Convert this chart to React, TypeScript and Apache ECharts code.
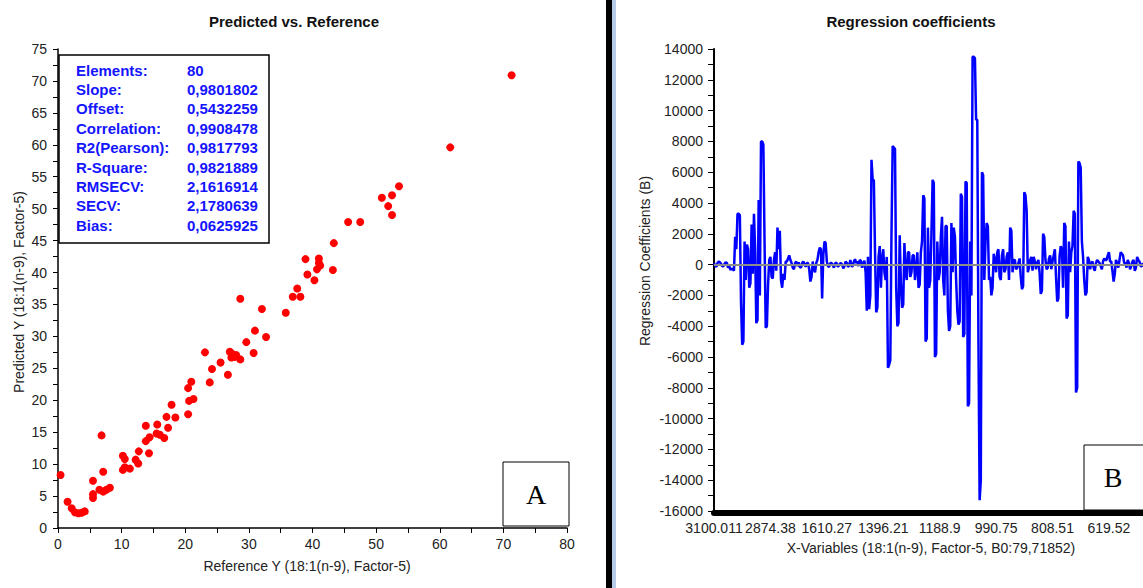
import React, { useEffect, useRef } from "react";
import * as echarts from "echarts";

// ---- Left chart: Predicted vs. Reference ----
const refX = [
  0.4, 1.5, 2.15, 2.65, 3.2, 3.7, 4.2, 5.5, 5.5, 5.5,
  6.85, 7.1, 6.5, 7.1, 7.6, 8.15, 10.2, 10.5, 10.2, 10.5,
  11.3, 12.2, 12.6, 12.7, 13.8, 13.8, 14.4, 14.3, 15.6, 15.5,
  16.0, 16.7, 17.05, 17.85, 18.45, 17.3, 20.45, 20.95, 20.6, 21.3,
  20.45, 23.85, 43.35, 38.9, 41.0, 41.0, 41.2, 40.7, 43.2, 39.2,
  40.3, 37.6, 36.9, 38.1, 28.65, 32.05, 35.8, 30.95, 32.7, 29.6,
  23.1, 30.75, 27.35, 28.0, 27.25, 27.8, 28.65, 25.55, 24.2, 26.7,
  71.3, 61.65, 53.6, 52.5, 50.9, 51.9, 52.5, 45.6, 47.5, 27.0,
];
const predY = [
  8.3, 4.1, 3.1, 2.45, 2.3, 2.4, 2.6, 7.4, 5.3, 4.7,
  14.5, 8.8, 6.0, 5.7, 6.0, 6.3, 11.3, 10.8, 9.1, 9.5,
  9.3, 10.7, 10.1, 12.0, 16.0, 13.6, 14.2, 11.7, 16.2, 14.8,
  14.6, 14.1, 17.4, 19.3, 17.3, 15.7, 21.9, 22.9, 19.9, 20.2,
  17.8, 22.8, 44.6, 42.1, 42.2, 41.5, 41.1, 40.5, 40.4, 39.7,
  38.8, 37.5, 36.2, 36.2, 35.9, 34.3, 33.7, 30.9, 29.9, 29.1,
  27.5, 27.4, 27.3, 27.1, 26.7, 26.8, 26.4, 25.9, 24.9, 24.0,
  70.9, 59.6, 53.5, 52.1, 51.7, 50.4, 49.0, 47.9, 47.9, 27.6,
];
const statLabels = [
  "Elements:", "Slope:", "Offset:", "Correlation:", "R2(Pearson):",
  "R-Square:", "RMSECV:", "SECV:", "Bias:",
];
const statValues = [
  "80", "0,9801802", "0,5432259", "0,9908478", "0,9817793",
  "0,9821889", "2,1616914", "2,1780639", "0,0625925",
];

// ---- Right chart: Regression coefficients ----
const coefTickLabels = [
  "3100.011", "2874.38", "1610.27", "1396.21", "1188.9", "990.75", "808.51", "619.52",
];
const LABEL_STEP = 48;
const coefValues = [
  100, -50, -150, 100, 200, 150, 50, -100, -100, 50,
  150, 100, -200, -100, -350, -250, -300, -400, 1800, 1000,
  3300, 3300, 3200, -2500, -5200, -5000, 1500, -1000, 1300, 1000,
  -1500, -1200, 2600, -600, 3300, 1000, -3800, -3600, 4200, -2000,
  8000, 8000, 7800, 1500, -4100, -4000, -1300, 300, 500, -800,
  -900, 300, 800, -400, 2400, 1000, 2200, -1000, -1500, -600,
  -1000, 200, 200, 400, 600, 300, 100, -200, -300, 100,
  200, -100, 150, -150, -200, 100, 200, 50, -150, 100,
  100, -300, -1100, -800, 200, -300, -500, 100, 300, 800,
  1100, 1000, -2200, 600, 1500, 1400, 200, -100, -150, 100,
  100, 0, -200, 50, 150, -100, -100, 50, 100, 0,
  -250, -100, 200, 100, -150, -50, 300, -100, -100, 200,
  350, 100, 200, -100, 300, 250, -200, 100, 250, -500,
  -3000, 500, -2900, -2000, 6800, 5500, 5500, 800, -3100, -2800,
  500, 1200, -1500, 400, 1000, -500, -1000, 500, -6700, -6500,
  -6200, 2000, 7700, 7600, 7500, -1500, -4000, -3800, 1900, -1200,
  -2800, -2600, 1400, -500, -1000, 800, 800, -800, -500, 600,
  600, -1000, -300, 800, -1500, -1300, 800, 1500, 4500, 4300,
  -5000, -4800, 2400, -1500, -1000, 2000, 5500, 5300, -6000, -5800,
  1500, -1000, -500, 1800, 3100, -1000, -2000, 2500, 2500, -3000,
  -4300, -4000, 2700, -500, 2400, 1800, -1000, -3000, -3900, -3700,
  4600, 4400, -4700, -4500, 5400, 5300, -9200, -9000, 1500, -2000,
  13500, 13500, 13400, 9400, 9400, -5000, -15300, -14000, 6000, 5800,
  -1000, 1500, 2700, 2500, -1000, -800, -2000, -1500, 700, 300,
  -500, 800, 1000, -800, -1000, 600, 1000, -500, -300, 500,
  800, -1000, 2400, 2200, -500, 300, 300, -300, -200, 100,
  400, -800, -1600, -1400, 4700, 4500, 3500, -500, -200, 300,
  500, -400, 500, 200, -300, 100, 300, -500, -1900, -1700,
  2000, 1800, 300, -300, -200, 400, 600, -300, 200, 600,
  1000, -800, -2400, -2200, 500, 1200, 1000, -1500, 2700, 2500,
  -3500, -3300, 1500, -500, 800, 1200, 3500, 3300, -8300, -8000,
  6700, 6600, 6300, 1500, 500, -1000, -2000, -1800, 500, 300,
  -300, 100, 200, -200, -400, 100, 300, 200, 100, -100,
  -300, 200, 400, 300, 300, 600, 800, 200, 200, -400,
  -1100, -600, 300, 100, -200, 300, 800, 700, 600, 100,
  100, -200, 300, 100, -300, -100, 200, 300, -400, -200,
  500, 300, 200, -100, -100, 100,
];

const FONT = "'Liberation Sans', Arial, sans-serif";

export default function App() {
  const ref = useRef<HTMLDivElement>(null);
  useEffect(() => {
    const chart = echarts.init(ref.current!, undefined, { renderer: "svg" });
    const scatterData = refX.map((x, i) => [x, predY[i]]);
    const coefCats = coefValues.map((_, i) => String(i));
    const plotWidth = ((coefValues.length - 1) * 58) / LABEL_STEP;
    const statText: any[] = [];
    statLabels.forEach((l, i) => {
      statText.push({
        type: "text", x: 76, y: 70 + i * 19.4, z: 101,
        style: { text: l, fill: "#1414ff", font: `bold 15px ${FONT}`, verticalAlign: "middle" },
      });
      statText.push({
        type: "text", x: 187, y: 70 + i * 19.4, z: 101,
        style: { text: statValues[i], fill: "#1414ff", font: `bold 15px ${FONT}`, verticalAlign: "middle" },
      });
    });
    chart.setOption({
      animation: false,
      grid: [
        { left: 58, top: 49, width: 509, height: 479 },
        { left: 714, top: 49, width: plotWidth, height: 462 },
      ],
      xAxis: [
        {
          gridIndex: 0, type: "value", min: 0, max: 80, interval: 10,
          axisLine: { show: true, onZero: false, lineStyle: { color: "#000", width: 1.5 } },
          axisTick: { show: true, length: 5, lineStyle: { color: "#000" } },
          minorTick: { show: true, splitNumber: 2, length: 5, lineStyle: { color: "#000" } },
          splitLine: { show: false },
          axisLabel: { color: "#222", fontSize: 14, fontFamily: FONT, margin: 9 },
        },
        {
          gridIndex: 1, type: "category", data: coefCats, boundaryGap: false, offset: 2,
          axisLine: { show: true, onZero: false, lineStyle: { color: "#000", width: 6 } },
          axisTick: { show: false },
          splitLine: { show: false },
          axisLabel: {
            interval: (i: number) => i % LABEL_STEP === 0,
            formatter: (_v: string, i: number) => coefTickLabels[Math.round(i / LABEL_STEP)] ?? "",
            color: "#222", fontSize: 14, fontFamily: FONT, margin: 8,
          },
        },
      ],
      yAxis: [
        {
          gridIndex: 0, type: "value", min: 0, max: 75, interval: 5,
          axisLine: { show: true, onZero: false, lineStyle: { color: "#000", width: 1.5 } },
          axisTick: { show: true, length: 5, lineStyle: { color: "#000" } },
          minorTick: { show: true, splitNumber: 2, length: 5, lineStyle: { color: "#000" } },
          splitLine: { show: false },
          axisLabel: { color: "#222", fontSize: 14, fontFamily: FONT, margin: 11 },
        },
        {
          gridIndex: 1, type: "value", min: -16000, max: 14000, interval: 2000,
          axisLine: { show: true, onZero: false, lineStyle: { color: "#000", width: 2 } },
          axisTick: { show: true, length: 6, lineStyle: { color: "#000" } },
          minorTick: { show: true, splitNumber: 2, length: 6, lineStyle: { color: "#000" } },
          splitLine: { show: false },
          axisLabel: {
            color: "#222", fontSize: 14, fontFamily: FONT, margin: 11,
            formatter: (v: number) => String(v),
          },
        },
      ],
      series: [
        {
          type: "scatter", xAxisIndex: 0, yAxisIndex: 0, data: scatterData,
          symbol: "circle", symbolSize: 8, itemStyle: { color: "#ff0000", opacity: 1 },
        },
        {
          type: "line", xAxisIndex: 1, yAxisIndex: 1, data: coefValues,
          showSymbol: false, symbol: "none",
          lineStyle: { color: "#0000ff", width: 2.5 },
          markLine: {
            silent: true, symbol: "none", label: { show: false },
            lineStyle: { color: "#8c8c8c", width: 2, type: "solid" },
            data: [{ yAxis: 0 }],
          },
        },
      ],
      graphic: [
        { type: "rect", z: 100, shape: { x: 606, y: 0, width: 6, height: 588 }, style: { fill: "#000" } },
        { type: "rect", z: 100, shape: { x: 612, y: 0, width: 4, height: 588 }, style: { fill: "#b6cce6" } },
        { type: "text", z: 100, x: 294, y: 21, style: { text: "Predicted vs. Reference", font: `bold 15px ${FONT}`, fill: "#111", align: "center", verticalAlign: "middle" } },
        { type: "text", z: 100, x: 911, y: 21, style: { text: "Regression coefficients", font: `bold 15px ${FONT}`, fill: "#111", align: "center", verticalAlign: "middle" } },
        { type: "text", z: 100, x: 19, y: 292, rotation: Math.PI / 2, style: { text: "Predicted Y (18:1(n-9), Factor-5)", font: `14px ${FONT}`, fill: "#222", align: "center", verticalAlign: "middle" } },
        { type: "text", z: 100, x: 307, y: 566, style: { text: "Reference Y (18:1(n-9), Factor-5)", font: `14px ${FONT}`, fill: "#222", align: "center", verticalAlign: "middle" } },
        { type: "text", z: 100, x: 645, y: 261, rotation: Math.PI / 2, style: { text: "Regression Coefficients (B)", font: `14px ${FONT}`, fill: "#222", align: "center", verticalAlign: "middle" } },
        { type: "text", z: 100, x: 931, y: 548, style: { text: "X-Variables (18:1(n-9), Factor-5, B0:79,71852)", font: `14px ${FONT}`, fill: "#222", align: "center", verticalAlign: "middle" } },
        { type: "rect", z: 100, shape: { x: 59, y: 55, width: 210, height: 188 }, style: { fill: "#fff", stroke: "#000", lineWidth: 1.5 } },
        ...statText,
        { type: "rect", z: 100, shape: { x: 503, y: 462, width: 66, height: 64 }, style: { fill: "#fff", stroke: "#000", lineWidth: 1 } },
        { type: "text", z: 101, x: 536, y: 494, style: { text: "A", font: "28px 'Liberation Serif', 'DejaVu Serif', serif", fill: "#000", align: "center", verticalAlign: "middle" } },
        { type: "rect", z: 100, shape: { x: 1084, y: 445, width: 80, height: 65 }, style: { fill: "#fff", stroke: "#000", lineWidth: 1 } },
        { type: "text", z: 101, x: 1113, y: 477, style: { text: "B", font: "28px 'Liberation Serif', 'DejaVu Serif', serif", fill: "#000", align: "center", verticalAlign: "middle" } },
      ],
    });
    return () => chart.dispose();
  }, []);
  return (
    <div
      ref={ref}
      style={{ position: "fixed", left: 0, top: 0, width: 1143, height: 588, background: "#fff" }}
    />
  );
}
